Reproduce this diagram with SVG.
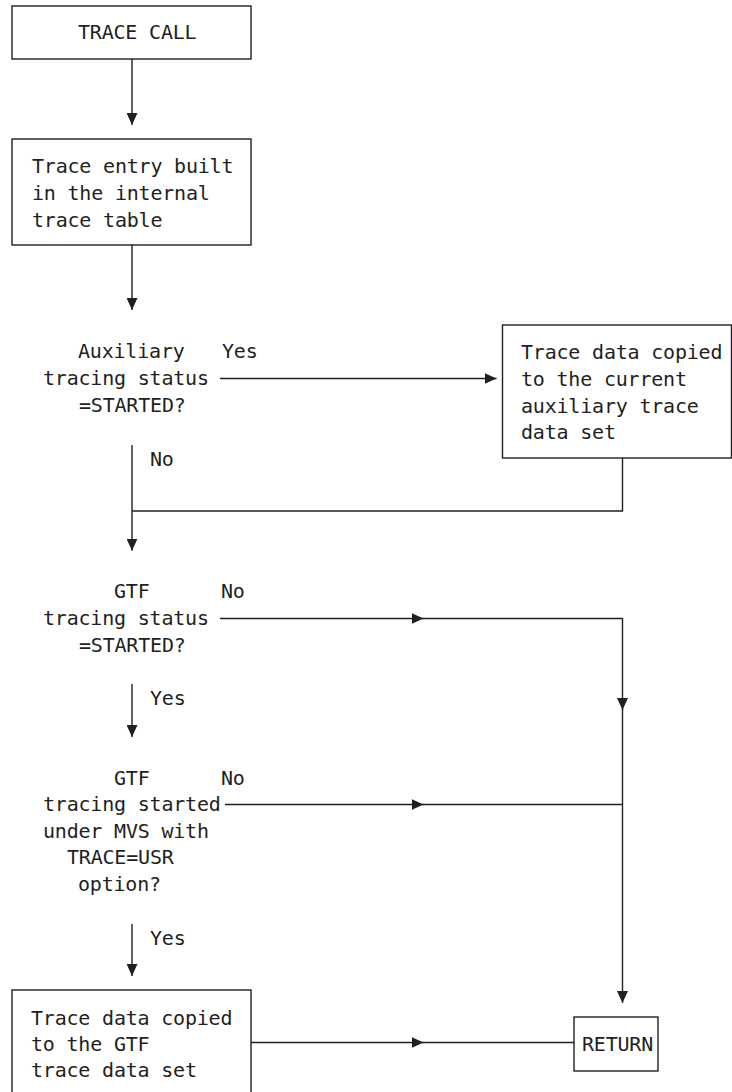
<svg xmlns="http://www.w3.org/2000/svg" width="732" height="1092" viewBox="0 0 732 1092">
<style>
text{font-family:"DejaVu Sans Mono","Liberation Mono",monospace;font-size:20px;letter-spacing:-0.2px;fill:#231f20}
.box{fill:none;stroke:#231f20;stroke-width:1.4}
.c{fill:none;stroke:#231f20;stroke-width:1.4}
</style>
<defs>
<marker id="a" markerUnits="userSpaceOnUse" markerWidth="12" markerHeight="11" refX="12" refY="5.5" orient="auto" viewBox="0 0 12 11">
<path d="M0,0 L12,5.5 L0,11 Z" fill="#231f20"/>
</marker>
</defs>
<rect width="732" height="1092" fill="#fff"/>
<g id="connectors">
<path class="c" d="M132,59 V125" marker-end="url(#a)"/>
<path class="c" d="M132,245 V310" marker-end="url(#a)"/>
<path class="c" d="M220,378.5 H496.5" marker-end="url(#a)"/>
<path class="c" d="M132,445 V550.7" marker-end="url(#a)"/>
<path class="c" d="M622.5,458 V511 H132"/>
<path class="c" d="M220,618.5 H423.5" marker-end="url(#a)"/>
<path class="c" d="M423,618.5 H622.5 V710" marker-end="url(#a)"/>
<path class="c" d="M622.5,709 V1003" marker-end="url(#a)"/>
<path class="c" d="M132,684 V737" marker-end="url(#a)"/>
<path class="c" d="M225,804.5 H423.5" marker-end="url(#a)"/>
<path class="c" d="M423,804.5 H622.5"/>
<path class="c" d="M132,924 V976" marker-end="url(#a)"/>
<path class="c" d="M251,1042.5 H423.5" marker-end="url(#a)"/>
<path class="c" d="M423,1042.5 H574"/>
<text x="222" y="358">Yes</text>
<text x="150" y="466">No</text>
<text x="221" y="598">No</text>
<text x="150" y="705">Yes</text>
<text x="221" y="785">No</text>
<text x="150" y="945">Yes</text>
</g>
<g id="trace-call">
<rect class="box" x="12" y="6" width="239" height="53"/>
<text x="78" y="39">TRACE CALL</text>
</g>
<g id="trace-entry">
<rect class="box" x="12" y="139" width="239" height="106"/>
<text x="32" y="173">Trace entry built</text>
<text x="32" y="200">in the internal</text>
<text x="32" y="227">trace table</text>
</g>
<g id="aux-decision">
<text x="78" y="358">Auxiliary</text>
<text x="43" y="385">tracing status</text>
<text x="79" y="411.5">=STARTED?</text>
</g>
<g id="aux-copy">
<rect class="box" x="502.5" y="325" width="229" height="133"/>
<text x="521" y="359">Trace data copied</text>
<text x="521" y="386">to the current</text>
<text x="521" y="412.5">auxiliary trace</text>
<text x="521" y="439">data set</text>
</g>
<g id="gtf-decision">
<text x="114" y="598">GTF</text>
<text x="43" y="625">tracing status</text>
<text x="79" y="651.5">=STARTED?</text>
</g>
<g id="gtf-usr-decision">
<text x="114" y="785">GTF</text>
<text x="43" y="811">tracing started</text>
<text x="43" y="837.5">under MVS with</text>
<text x="67" y="864">TRACE=USR</text>
<text x="78" y="890.5">option?</text>
</g>
<g id="gtf-copy">
<rect class="box" x="12" y="990" width="239" height="120"/>
<text x="31" y="1025">Trace data copied</text>
<text x="31" y="1051">to the GTF</text>
<text x="31" y="1077">trace data set</text>
</g>
<g id="return">
<rect class="box" x="574" y="1017" width="84" height="54"/>
<text x="582" y="1051">RETURN</text>
</g>
</svg>
